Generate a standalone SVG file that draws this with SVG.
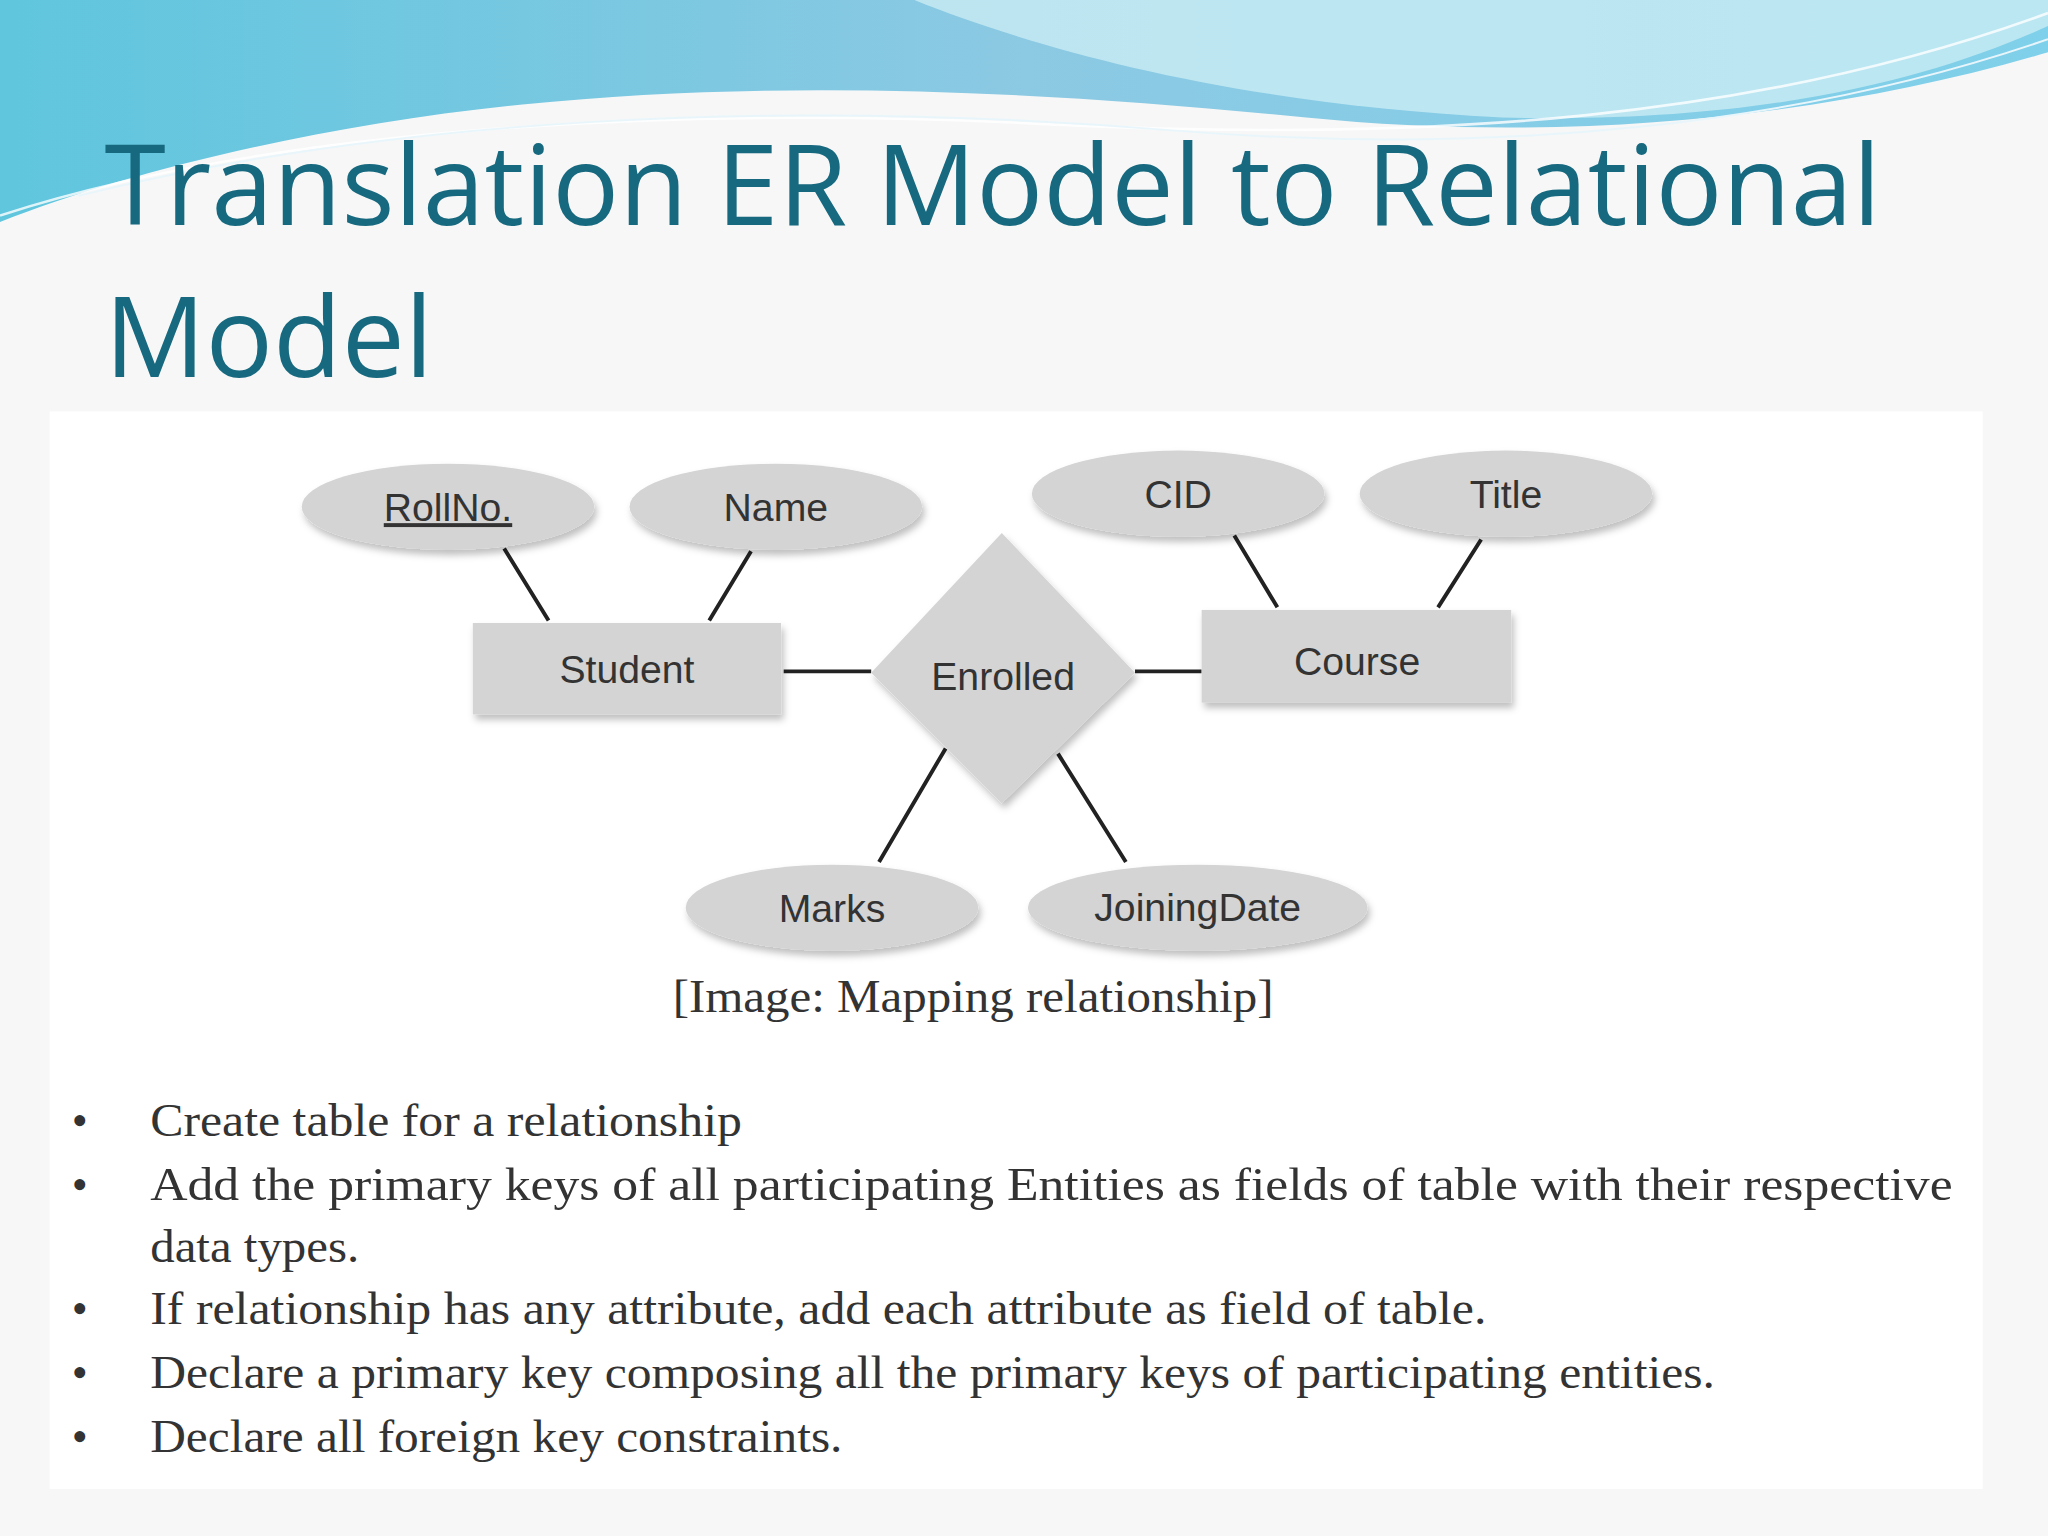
<svg xmlns="http://www.w3.org/2000/svg" width="2048" height="1536" viewBox="0 0 2048 1536">
<defs>
<linearGradient id="wave" x1="0" y1="0" x2="1" y2="0">
<stop offset="0" stop-color="#5fc6de"/><stop offset="0.5" stop-color="#8cc9e3"/><stop offset="1" stop-color="#7fd0ea"/>
</linearGradient>
<filter id="sh" x="-10%" y="-10%" width="130%" height="140%"><feDropShadow dx="2" dy="4" stdDeviation="3" flood-color="#000" flood-opacity="0.25"/></filter>
<style>
.attr{fill:#d4d4d4;filter:url(#sh)}
.ent{fill:#d4d4d4;filter:url(#sh)}
.lbl{font-family:"Liberation Sans",Arial,sans-serif;font-size:30px;fill:#333;text-anchor:middle}
.ln{stroke:#222;stroke-width:3;fill:none}
.bt{font-family:"Liberation Serif","Times New Roman",serif;font-size:35px;fill:#333}
</style>
</defs>
<g transform="scale(1.30612)">
<rect width="1568" height="1176" fill="#f7f7f7"/>
<path d="M0 0 H1568 V40 C1400 90 1200 110 1000 90 C800 70 600 60 400 80 C250 95 100 130 0 170 Z" fill="url(#wave)"/>
<path d="M700 0 C800 40 950 80 1150 90 C1350 95 1480 60 1568 20 V0 Z" fill="#c9ecf4" opacity="0.8"/>
<path d="M0 165 C200 100 500 80 800 95 C1100 110 1350 90 1568 10" stroke="#ffffff" stroke-width="2" fill="none" opacity="0.8"/>
<path d="M60 150 C300 90 600 75 900 100 C1150 120 1380 95 1568 30" stroke="#e8f6fb" stroke-width="1.5" fill="none"/>
<text x="80" y="172" font-family="'Open Sans','Liberation Sans',sans-serif" font-size="86" fill="#17697f" textLength="1360" lengthAdjust="spacingAndGlyphs">Translation ER Model to Relational</text>
<text x="80" y="289" font-family="'Open Sans','Liberation Sans',sans-serif" font-size="86" fill="#17697f">Model</text>
<rect x="38" y="315" width="1480" height="825" fill="#ffffff"/>
<g id="connectors">
<path class="ln" d="M386 420 L420 475 M575 422 L543 475 M600 514 L667 514 M869 514 L920 514 M945 410 L978 465 M1134 413 L1101 465 M724 573 L673 660 M810 577 L862 660"/>
</g>
<g id="rollno"><ellipse class="attr" cx="343" cy="388" rx="112" ry="33"/><text class="lbl" x="343" y="399" text-decoration="underline">RollNo.</text></g>
<g id="name"><ellipse class="attr" cx="594" cy="388" rx="112" ry="33"/><text class="lbl" x="594" y="399">Name</text></g>
<g id="cid"><ellipse class="attr" cx="902" cy="378" rx="112" ry="33"/><text class="lbl" x="902" y="389">CID</text></g>
<g id="title"><ellipse class="attr" cx="1153" cy="378" rx="112" ry="33"/><text class="lbl" x="1153" y="389">Title</text></g>
<g id="marks"><ellipse class="attr" cx="637" cy="695" rx="112" ry="33"/><text class="lbl" x="637" y="706">Marks</text></g>
<g id="joiningdate"><ellipse class="attr" cx="917" cy="695" rx="130" ry="33"/><text class="lbl" x="917" y="705" font-size="28">JoiningDate</text></g>
<g id="student"><rect class="ent" x="362" y="477" width="236" height="70"/><text class="lbl" x="480" y="523">Student</text></g>
<g id="course"><rect class="ent" x="920" y="467" width="237" height="71"/><text class="lbl" x="1039" y="517">Course</text></g>
<g id="enrolled"><polygon class="ent" points="767,408 869,515 767,615 667,515"/><text class="lbl" x="768" y="528" font-size="29">Enrolled</text></g>
<text x="515" y="775" class="bt" font-size="36" textLength="460" lengthAdjust="spacingAndGlyphs">[Image: Mapping relationship]</text>
<g class="bt">
<text x="55" y="870">•</text><text x="115" y="870" textLength="453" lengthAdjust="spacingAndGlyphs">Create table for a relationship</text>
<text x="55" y="919">•</text><text x="115" y="919" textLength="1380" lengthAdjust="spacingAndGlyphs">Add the primary keys of all participating Entities as fields of table with their respective</text>
<text x="115" y="966" textLength="160" lengthAdjust="spacingAndGlyphs">data types.</text>
<text x="55" y="1014">•</text><text x="115" y="1014" textLength="1023" lengthAdjust="spacingAndGlyphs">If relationship has any attribute, add each attribute as field of table.</text>
<text x="55" y="1063">•</text><text x="115" y="1063" textLength="1198" lengthAdjust="spacingAndGlyphs">Declare a primary key composing all the primary keys of participating entities.</text>
<text x="55" y="1112">•</text><text x="115" y="1112" textLength="530" lengthAdjust="spacingAndGlyphs">Declare all foreign key constraints.</text>
</g>
</g>
</svg>
